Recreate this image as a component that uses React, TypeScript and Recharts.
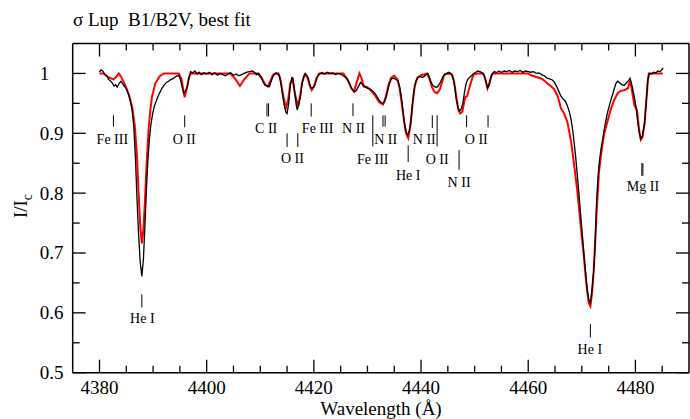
import React from 'react';
import { LineChart, Line, XAxis, YAxis, ReferenceLine, ReferenceDot } from 'recharts';

// Observed spectrum (wavelength Å, normalised flux)
const observed: [number, number][] = [
  [4380.0,1.002],[4380.3,1.006],[4380.6,1.004],[4381.0,0.998],[4381.4,0.995],[4381.7,0.990],[4382.0,0.988],[4382.4,0.984],
  [4382.7,0.979],[4383.0,0.981],[4383.3,0.977],[4383.7,0.984],[4384.0,0.987],[4384.3,0.983],[4384.6,0.979],[4384.9,0.976],
  [4385.2,0.970],[4385.5,0.963],[4385.8,0.952],[4386.1,0.938],[4386.4,0.911],[4386.7,0.860],[4387.0,0.790],[4387.3,0.730],
  [4387.6,0.685],[4387.9,0.661],[4388.2,0.690],[4388.5,0.750],[4388.8,0.815],[4389.0,0.850],[4389.3,0.889],[4389.6,0.915],
  [4389.9,0.932],[4390.2,0.944],[4390.5,0.952],[4390.9,0.961],[4391.3,0.969],[4391.7,0.976],[4392.1,0.981],[4392.5,0.985],
  [4392.9,0.987],[4393.3,0.990],[4393.7,0.991],[4394.1,0.994],[4394.5,0.996],[4394.8,0.997],[4395.1,0.990],[4395.4,0.978],
  [4395.7,0.967],[4396.0,0.970],[4396.4,0.978],[4396.7,0.992],[4397.0,1.003],[4397.4,1.001],[4397.8,1.004],[4398.2,0.999],
  [4398.6,1.002],[4399.0,0.998],[4399.5,1.001],[4400.0,0.999],[4400.5,1.002],[4401.0,0.998],[4401.5,1.001],[4402.0,0.997],
  [4402.5,1.000],[4403.0,0.998],[4403.5,0.996],[4404.0,0.999],[4404.5,1.001],[4405.0,0.997],[4405.5,0.999],[4406.0,0.996],
  [4406.5,0.998],[4407.0,1.000],[4407.5,1.002],[4408.0,1.003],[4408.5,1.004],[4408.9,1.002],[4409.3,0.998],[4409.7,1.000],
  [4410.1,0.995],[4410.5,0.986],[4410.9,0.980],[4411.3,0.979],[4411.7,0.978],[4412.0,0.986],[4412.3,0.993],[4412.7,1.000],
  [4413.0,1.001],[4413.3,0.999],[4413.6,0.996],[4413.9,0.980],[4414.2,0.962],[4414.5,0.945],[4414.8,0.935],[4415.0,0.933],
  [4415.3,0.950],[4415.6,0.980],[4415.9,0.993],[4416.1,0.992],[4416.4,0.970],[4416.7,0.948],[4416.9,0.939],[4417.2,0.948],
  [4417.5,0.962],[4417.8,0.982],[4418.1,0.995],[4418.4,1.000],[4418.7,0.997],[4419.0,0.990],[4419.3,0.979],[4419.6,0.975],
  [4419.9,0.977],[4420.2,0.981],[4420.6,0.993],[4421.0,0.999],[4421.5,1.001],[4422.0,0.999],[4422.5,1.002],[4423.0,1.000],
  [4423.5,1.001],[4424.0,0.998],[4424.5,1.000],[4425.0,0.999],[4425.5,0.996],[4426.0,0.993],[4426.5,0.986],[4427.0,0.976],
  [4427.5,0.969],[4427.9,0.971],[4428.3,0.978],[4428.7,0.985],[4429.1,0.981],[4429.5,0.978],[4430.0,0.975],[4430.5,0.974],
  [4430.9,0.971],[4431.3,0.968],[4431.8,0.961],[4432.2,0.955],[4432.6,0.951],[4432.9,0.950],[4433.2,0.953],[4433.5,0.961],
  [4433.8,0.972],[4434.1,0.983],[4434.5,0.991],[4434.9,0.992],[4435.3,0.990],[4435.7,0.988],[4436.0,0.978],[4436.3,0.962],
  [4436.6,0.940],[4436.9,0.918],[4437.2,0.903],[4437.5,0.897],[4437.8,0.904],[4438.1,0.918],[4438.4,0.948],[4438.7,0.972],
  [4439.0,0.986],[4439.4,0.993],[4439.8,0.995],[4440.2,0.993],[4440.6,0.995],[4441.0,0.998],[4441.3,0.999],[4441.6,0.993],
  [4441.9,0.985],[4442.2,0.980],[4442.5,0.978],[4442.8,0.977],[4443.1,0.978],[4443.4,0.982],[4443.7,0.987],[4444.0,0.993],
  [4444.4,0.999],[4444.8,1.000],[4445.2,1.002],[4445.6,1.000],[4446.0,0.992],[4446.3,0.976],[4446.6,0.955],[4446.9,0.942],
  [4447.2,0.937],[4447.5,0.941],[4447.8,0.950],[4448.1,0.968],[4448.4,0.983],[4448.7,0.990],[4449.0,0.993],[4449.4,0.996],
  [4449.8,1.000],[4450.2,1.002],[4450.6,1.004],[4451.0,1.003],[4451.4,1.001],[4451.8,0.997],[4452.1,0.987],[4452.4,0.976],
  [4452.7,0.980],[4453.0,0.993],[4453.3,1.000],[4453.7,1.003],[4454.1,1.001],[4454.5,1.004],[4455.0,1.002],[4455.5,1.004],
  [4456.0,1.003],[4456.5,1.005],[4457.0,1.002],[4457.5,1.004],[4458.0,1.003],[4458.5,1.005],[4459.0,1.002],[4459.5,1.004],
  [4460.0,1.003],[4460.5,1.002],[4461.0,1.003],[4461.5,1.000],[4462.0,1.001],[4462.5,0.998],[4463.0,0.996],[4463.5,0.992],
  [4464.0,0.991],[4464.5,0.989],[4464.9,0.985],[4465.3,0.978],[4465.7,0.970],[4466.1,0.962],[4466.5,0.958],[4466.9,0.954],
  [4467.3,0.946],[4467.7,0.935],[4468.0,0.923],[4468.3,0.905],[4468.6,0.882],[4468.9,0.856],[4469.2,0.826],[4469.5,0.795],
  [4469.8,0.762],[4470.1,0.730],[4470.4,0.698],[4470.7,0.668],[4471.0,0.640],[4471.3,0.622],[4471.6,0.617],[4471.9,0.638],
  [4472.2,0.668],[4472.45,0.705],[4472.7,0.775],[4473.0,0.825],[4473.3,0.855],[4473.6,0.875],[4473.9,0.890],[4474.2,0.908],
  [4474.5,0.922],[4474.8,0.935],[4475.1,0.945],[4475.4,0.955],[4475.8,0.966],[4476.1,0.976],[4476.4,0.984],[4476.7,0.987],
  [4477.0,0.985],[4477.5,0.981],[4477.9,0.980],[4478.3,0.984],[4478.7,0.988],[4479.0,0.992],[4479.3,0.982],[4479.8,0.961],
  [4480.1,0.945],[4480.4,0.922],[4480.7,0.902],[4481.0,0.891],[4481.3,0.895],[4481.7,0.917],[4482.0,0.950],[4482.3,0.989],
  [4482.6,1.000],[4483.0,0.999],[4483.4,1.002],[4483.8,1.001],[4484.2,1.004],[4484.6,1.003],[4485.0,1.007],[4485.2,1.009],
];

// Best-fit model spectrum
const model: [number, number][] = [
  [4380.0,1.000],[4380.8,1.000],[4381.5,0.995],[4382.0,0.992],[4382.6,0.990],[4383.1,0.994],[4383.6,1.000],[4384.0,0.995],
  [4384.5,0.986],[4385.0,0.976],[4385.5,0.964],[4386.1,0.944],[4386.6,0.911],[4387.0,0.861],[4387.3,0.800],[4387.6,0.745],
  [4387.9,0.716],[4388.2,0.740],[4388.5,0.790],[4388.8,0.850],[4389.2,0.911],[4389.5,0.940],[4389.8,0.961],[4390.4,0.983],
  [4391.2,0.995],[4392.0,1.000],[4394.8,1.000],[4395.3,0.990],[4395.9,0.960],[4396.3,0.975],[4396.7,0.994],[4397.0,1.000],
  [4404.4,1.000],[4405.4,0.990],[4406.2,0.979],[4407.0,0.990],[4408.0,1.000],[4409.5,1.000],[4410.3,0.992],[4410.9,0.982],
  [4411.4,0.978],[4411.9,0.988],[4412.4,0.998],[4413.4,1.000],[4413.8,0.988],[4414.3,0.962],[4414.8,0.943],[4415.2,0.955],
  [4415.6,0.983],[4416.0,0.990],[4416.5,0.965],[4417.0,0.946],[4417.4,0.960],[4417.8,0.985],[4418.3,0.998],[4418.8,0.994],
  [4419.3,0.978],[4419.6,0.972],[4420.0,0.978],[4420.5,0.992],[4421.0,1.000],[4425.5,1.000],[4426.3,0.990],[4427.0,0.975],
  [4427.5,0.970],[4428.0,0.985],[4428.5,1.000],[4428.9,0.992],[4429.3,0.978],[4430.0,0.977],[4430.8,0.970],[4431.5,0.962],
  [4432.2,0.952],[4432.9,0.948],[4433.4,0.960],[4433.9,0.980],[4434.4,0.993],[4435.0,0.996],[4435.6,0.990],[4436.0,0.975],
  [4436.4,0.950],[4436.8,0.922],[4437.2,0.900],[4437.6,0.892],[4438.0,0.912],[4438.4,0.948],[4438.8,0.978],[4439.3,0.993],
  [4440.0,0.997],[4440.8,0.999],[4441.2,1.000],[4441.6,0.990],[4442.0,0.978],[4442.5,0.969],[4443.0,0.967],[4443.5,0.973],
  [4443.9,0.985],[4444.3,0.997],[4445.0,1.000],[4445.8,0.998],[4446.2,0.985],[4446.6,0.960],[4447.0,0.938],[4447.3,0.933],
  [4447.7,0.936],[4448.0,0.950],[4448.3,0.961],[4448.6,0.962],[4448.9,0.972],[4449.3,0.985],[4449.8,0.998],[4450.5,1.000],
  [4451.6,1.000],[4452.0,0.990],[4452.4,0.975],[4452.8,0.985],[4453.2,0.998],[4453.6,1.000],[4460.0,1.000],[4460.5,0.997],
  [4461.5,0.994],[4462.3,0.992],[4463.0,0.988],[4463.6,0.983],[4464.2,0.979],[4464.8,0.974],[4465.5,0.962],[4466.1,0.942],
  [4466.7,0.933],[4467.3,0.919],[4468.0,0.886],[4468.6,0.845],[4469.2,0.800],[4469.8,0.745],[4470.4,0.692],[4470.7,0.662],
  [4471.0,0.636],[4471.3,0.616],[4471.6,0.611],[4471.9,0.632],[4472.2,0.668],[4472.5,0.720],[4472.9,0.790],[4473.2,0.835],
  [4473.6,0.865],[4473.9,0.885],[4474.2,0.900],[4474.8,0.920],[4475.4,0.940],[4476.0,0.955],[4476.7,0.967],[4477.3,0.971],
  [4477.9,0.972],[4478.6,0.975],[4479.0,0.988],[4479.3,0.975],[4479.8,0.947],[4480.3,0.939],[4480.7,0.905],[4481.0,0.889],
  [4481.3,0.893],[4481.7,0.915],[4482.0,0.950],[4482.3,0.985],[4482.5,1.000],[4485.1,1.000],
];

// Line identification marks: [wavelength, top flux, bottom flux]
const lineMarks: [number, number, number][] = [
  [4382.6,0.930,0.911],[4395.9,0.930,0.910],[4387.9,0.631,0.609],
  [4411.25,0.950,0.928],[4411.55,0.950,0.928],
  [4415.0,0.900,0.877],[4417.0,0.900,0.877],
  [4419.5,0.950,0.928],[4427.3,0.950,0.929],
  [4431.0,0.930,0.878],[4432.9,0.930,0.911],[4433.3,0.930,0.911],
  [4437.6,0.880,0.852],[4442.1,0.930,0.909],[4443.0,0.930,0.878],
  [4447.1,0.872,0.839],[4448.5,0.930,0.910],[4452.5,0.930,0.910],
  [4471.6,0.581,0.559],[4481.2,0.850,0.829],[4481.4,0.850,0.829],
];

// Line identification labels: [text, wavelength, flux]
const lineLabels: [string, number, number][] = [
  ['Fe III',4382.4,0.890],['O II',4395.8,0.890],['He I',4388.0,0.590],
  ['C II',4411.1,0.908],['O II',4416.0,0.8585],['Fe III',4420.7,0.908],
  ['N II',4427.4,0.908],['N II',4433.4,0.889],['Fe III',4431.0,0.857],
  ['He I',4437.6,0.830],['N II',4440.6,0.889],['O II',4443.0,0.857],
  ['N II',4447.1,0.817],['O II',4450.3,0.889],['He I',4471.5,0.539],
  ['Mg II',4481.4,0.811],
];

const xTicks = [4380,4385,4390,4395,4400,4405,4410,4415,4420,4425,4430,4435,4440,4445,4450,4455,4460,4465,4470,4475,4480,4485];
const yTicks = [0.5,0.55,0.6,0.65,0.7,0.75,0.8,0.85,0.9,0.95,1];

const obsData = observed.map(([w, f]) => ({ w, f }));
const modelData = model.map(([w, f]) => ({ w, f }));

const FONT = '"Liberation Serif", "Times New Roman", serif';
const isMajorX = (v: number) => v % 20 === 0;
const isMajorY = (v: number) => Math.round(v * 100) % 10 === 0;

const BottomTick = (p: any) => {
  const { x, y, payload } = p;
  const v = payload.value;
  const major = isMajorX(v);
  return (
    <g>
      <line x1={x} y1={y} x2={x} y2={y - (major ? 13 : 7)} stroke="#000" strokeWidth={1.3} />
      {major && (
        <text x={x} y={y + 21} textAnchor="middle" fontFamily={FONT} fontSize={19} fill="#000">{v}</text>
      )}
    </g>
  );
};
const TopTick = (p: any) => {
  const { x, y, payload } = p;
  const major = isMajorX(payload.value);
  return <line x1={x} y1={y} x2={x} y2={y + (major ? 13 : 7)} stroke="#000" strokeWidth={1.3} />;
};
const LeftTick = (p: any) => {
  const { x, y, payload } = p;
  const v = payload.value;
  const major = isMajorY(v);
  return (
    <g>
      <line x1={x} y1={y} x2={x + (major ? 13 : 7)} y2={y} stroke="#000" strokeWidth={1.3} />
      {major && (
        <text x={x - 33} y={y + 6.5} textAnchor="start" fontFamily={FONT} fontSize={19} fill="#000">
          {v === 1 ? '1' : v.toFixed(1)}
        </text>
      )}
    </g>
  );
};
const RightTick = (p: any) => {
  const { x, y, payload } = p;
  const major = isMajorY(payload.value);
  return <line x1={x} y1={y} x2={x - (major ? 13 : 7)} y2={y} stroke="#000" strokeWidth={1.3} />;
};

const axisLine = { stroke: '#000', strokeWidth: 1.5 };

export default function App() {
  return (
    <div style={{ position: 'absolute', left: 0, top: 0, width: 690, height: 419, background: '#fff' }}>
      <LineChart width={690} height={419} margin={{ top: 13.5, right: 0, bottom: 16.3, left: 12.7 }}>
        <XAxis xAxisId="bottom" orientation="bottom" type="number" dataKey="w" domain={[4375, 4490]}
          ticks={xTicks} interval={0} tickSize={0} tickMargin={0} height={30} axisLine={axisLine}
          tickLine={false} tick={<BottomTick />} allowDataOverflow />
        <XAxis xAxisId="top" orientation="top" type="number" dataKey="w" domain={[4375, 4490]}
          ticks={xTicks} interval={0} tickSize={0} tickMargin={0} height={30} axisLine={axisLine}
          tickLine={false} tick={<TopTick />} allowDataOverflow />
        <YAxis yAxisId="left" orientation="left" type="number" domain={[0.5, 1.05]} ticks={yTicks}
          interval={0} tickSize={0} tickMargin={0} width={60} axisLine={axisLine} tickLine={false}
          tick={<LeftTick />} allowDataOverflow />
        <YAxis yAxisId="right" orientation="right" type="number" domain={[0.5, 1.05]} ticks={yTicks}
          interval={0} tickSize={0} tickMargin={0} width={1} axisLine={axisLine} tickLine={false}
          tick={<RightTick />} allowDataOverflow />
        <Line xAxisId="bottom" yAxisId="left" data={modelData} dataKey="f" type="linear" stroke="#ff0000"
          strokeWidth={2} dot={false} isAnimationActive={false} />
        <Line xAxisId="bottom" yAxisId="left" data={obsData} dataKey="f" type="linear" stroke="#000"
          strokeWidth={1.3} dot={false} isAnimationActive={false} />
        {lineMarks.map(([w, t, b], i) => (
          <ReferenceLine key={'m' + i} xAxisId="bottom" yAxisId="left"
            segment={[{ x: w, y: t }, { x: w, y: b }]} stroke="#000" strokeWidth={1} />
        ))}
        {lineLabels.map(([txt, w, f], i) => (
          <ReferenceDot key={'l' + i} xAxisId="bottom" yAxisId="left" x={w} y={f} r={0}
            shape={(p: any) => (
              <text x={p.cx} y={p.cy} textAnchor="middle" dominantBaseline="central"
                fontFamily={FONT} fontSize={14} fill="#000">{txt}</text>
            )} />
        ))}
      </LineChart>
      <svg width={690} height={419} style={{ position: 'absolute', left: 0, top: 0, pointerEvents: 'none' }}>
        <text x={73} y={26} fontFamily={FONT} fontSize={19} fill="#000" style={{ whiteSpace: 'pre' }}>
          {'σ Lup  B1/B2V, best fit'}
        </text>
        <text x={381} y={415} textAnchor="middle" fontFamily={FONT} fontSize={19} fill="#000">
          Wavelength (Å)
        </text>
        <text x={27} y={206} transform="rotate(-90, 27, 206)" textAnchor="middle" fontFamily={FONT}
          fontSize={19} fill="#000">
          I/I<tspan dy={5} fontSize={14}>c</tspan>
        </text>
      </svg>
    </div>
  );
}
